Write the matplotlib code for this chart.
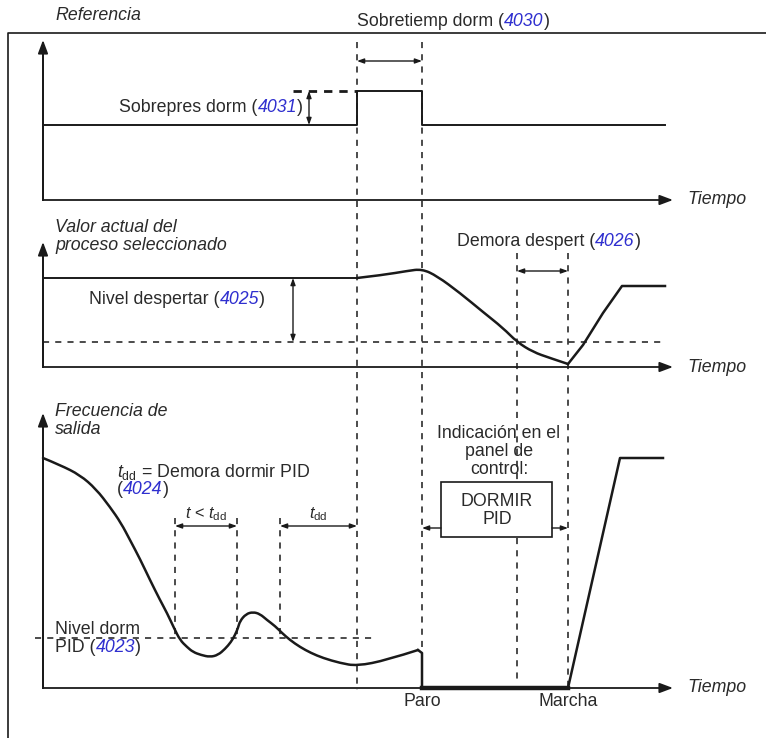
import numpy as np
import matplotlib.pyplot as plt
from matplotlib.path import Path
from matplotlib.patches import PathPatch

plt.rcParams['font.family'] = ['Liberation Sans', 'DejaVu Sans']
plt.rcParams['mathtext.fontset'] = 'custom'
plt.rcParams['mathtext.rm'] = 'Liberation Sans'
plt.rcParams['mathtext.it'] = 'Liberation Sans:italic'

# Diagram values (x = time, y = screen row, pixels)
# Reference signal
ref_x = [43, 357, 357, 422, 422, 665]
ref_y = [125, 125, 91, 91, 125, 125]

# Actual process value (smooth part, then the recovery ramp)
proc_x = [357, 383, 407, 422, 437, 460, 483, 503, 517, 533, 550, 568]
proc_y = [278, 275, 271, 269, 276, 293, 312, 328, 342, 352, 358, 364]
proc_ramp_x = [568, 583, 603, 622, 665]
proc_ramp_y = [364, 345, 313, 286, 286]
proc_flat_y = 278

# Output frequency (smooth part, then stop / restart)
freq_x = [43, 60, 80, 96, 110, 121, 130, 140, 150, 160, 167, 174, 180, 187, 193, 201, 210,
          218, 225, 231, 235, 238, 240, 246, 253, 260, 267, 275, 282, 290, 300, 311, 323,
          340, 357, 387, 418]
freq_y = [458, 465, 475, 489, 507, 523, 540, 559, 580, 600, 613, 628, 640, 647, 652, 655, 657,
          655, 649, 642, 635, 628, 621, 614, 612, 614, 620, 626, 633, 640, 647, 653, 658,
          663, 666, 660, 650]
stop_x = [418, 422, 422, 568]
stop_y = [650, 653, 688, 688]
restart_x = [568, 620, 663]
restart_y = [688, 458, 458]

# Levels
overpressure_y = 91
wake_level_y = 342
sleep_level_y = 638

INK = '#1a1a1a'
TXT = '#2a2a2a'
BLUE = '#2f2fcf'
FS = 12.8


def rich(ax, x, y, parts, ha='left'):
    """Draw text pieces side by side: parts = [(text, color, style)]."""
    r = ax.figure.canvas.get_renderer()
    arts = []
    for s, c, st in parts:
        t = ax.text(0, y, s, color=c, style=st, fontsize=FS, va='center', ha='left')
        arts.append(t)
    widths = [a.get_window_extent(r).width for a in arts]
    total = sum(widths)
    if ha == 'center':
        x = x - total / 2
    elif ha == 'right':
        x = x - total
    for a, w in zip(arts, widths):
        a.set_x(x)
        x += w


def smooth(ax, xs, ys, lw=1.8):
    # quadratic B-spline through the read points, drawn as a matplotlib path
    pts = list(zip(xs, ys))
    verts = [pts[0]]
    codes = [Path.MOVETO]
    for i in range(1, len(pts) - 2):
        mid = ((pts[i][0] + pts[i + 1][0]) / 2, (pts[i][1] + pts[i + 1][1]) / 2)
        verts += [pts[i], mid]
        codes += [Path.CURVE3, Path.CURVE3]
    verts += [pts[-2], pts[-1]]
    codes += [Path.CURVE3, Path.CURVE3]
    ax.add_patch(PathPatch(Path(verts, codes), fill=False, ec=INK, lw=lw,
                           capstyle='round', joinstyle='round'))


def arrow(ax, x0, y0, x1, y1, lw=1.3, scale=20, hl=0.4, hw=0.15):
    ax.annotate('', xy=(x1, y1), xytext=(x0, y0),
                arrowprops=dict(arrowstyle=f'-|>,head_length={hl},head_width={hw}',
                                lw=lw, color=INK, shrinkA=0, shrinkB=0,
                                mutation_scale=scale))


def darrow(ax, x0, y0, x1, y1):
    ax.annotate('', xy=(x1, y1), xytext=(x0, y0),
                arrowprops=dict(arrowstyle='<|-|>,head_length=0.5,head_width=0.18',
                                lw=1.0, color=INK, shrinkA=0, shrinkB=0,
                                mutation_scale=8))


def vdash(ax, x, y0, y1):
    ax.plot([x, x], [y0, y1], color=INK, lw=1.1, ls=(0, (4, 4)))


def hdash(ax, x0, x1, y):
    ax.plot([x0, x1], [y, y], color=INK, lw=1.1, ls=(0, (4, 4)))


fig = plt.figure(figsize=(7.66, 7.38), dpi=100)
ax = fig.add_axes([0, 0, 1, 1])
ax.set_xlim(0, 766)
ax.set_ylim(738, 0)
ax.axis('off')
fig.canvas.draw()

# outer frame
ax.plot([8, 8, 766], [738, 33, 33], color=INK, lw=1.2)

# axes of the three panels
for top, base in [(40, 200), (242, 367), (413, 688)]:
    ax.plot([43, 43], [base, top + 8], color=INK, lw=1.4)
    arrow(ax, 43, base, 43, top)
    arrow(ax, 43, base, 673, base)
    ax.text(687, base, 'Tiempo', style='italic', fontsize=FS, color=TXT, va='center')

# vertical time markers
vdash(ax, 357, 42, 690)
vdash(ax, 422, 42, 653)
vdash(ax, 517, 253, 482)
vdash(ax, 517, 538, 680)
vdash(ax, 568, 253, 688)
vdash(ax, 175, 518, 638)
vdash(ax, 237, 518, 636)
vdash(ax, 280, 518, 640)

# panel 1: reference
ax.plot(ref_x, ref_y, color=INK, lw=1.4)
ax.plot([293, 357], [overpressure_y, overpressure_y], color=INK, lw=2.0, ls=(0, (3, 2.5)))
darrow(ax, 309, overpressure_y, 309, ref_y[0])
darrow(ax, 357, 61, 422, 61)
ax.text(55, 16, 'Referencia', style='italic', fontsize=FS, color=TXT, va='center')
rich(ax, 357, 21, [('Sobretiemp dorm (', TXT, 'normal'), ('4030', BLUE, 'italic'), (')', TXT, 'normal')])
rich(ax, 303, 107, [('Sobrepres dorm (', TXT, 'normal'), ('4031', BLUE, 'italic'), (')', TXT, 'normal')], ha='right')

# panel 2: process value
ax.plot([43, 357], [proc_flat_y, proc_flat_y], color=INK, lw=1.4)
smooth(ax, proc_x, proc_y)
ax.plot(proc_ramp_x, proc_ramp_y, color=INK, lw=1.8, solid_joinstyle='round')
hdash(ax, 43, 665, wake_level_y)
darrow(ax, 293, proc_flat_y, 293, wake_level_y)
darrow(ax, 517, 271, 568, 271)
ax.text(55, 228, 'Valor actual del', style='italic', fontsize=FS, color=TXT, va='center')
ax.text(55, 245, 'proceso seleccionado', style='italic', fontsize=FS, color=TXT, va='center')
rich(ax, 89, 300, [('Nivel despertar (', TXT, 'normal'), ('4025', BLUE, 'italic'), (')', TXT, 'normal')])
rich(ax, 457, 242, [('Demora despert (', TXT, 'normal'), ('4026', BLUE, 'italic'), (')', TXT, 'normal')])

# panel 3: output frequency
smooth(ax, freq_x, freq_y)
ax.plot(stop_x[:3], stop_y[:3], color=INK, lw=1.8)
ax.plot(stop_x[2:], stop_y[2:], color=INK, lw=3.2)
ax.plot(restart_x, restart_y, color=INK, lw=1.8)
hdash(ax, 35, 376, sleep_level_y)
darrow(ax, 175, 526, 237, 526)
darrow(ax, 280, 526, 357, 526)
ax.text(55, 412, 'Frecuencia de', style='italic', fontsize=FS, color=TXT, va='center')
ax.text(55, 430, 'salida', style='italic', fontsize=FS, color=TXT, va='center')
ax.text(117, 472, r'$t_{\mathrm{dd}}$ = Demora dormir PID', fontsize=FS, color=TXT, va='center')
rich(ax, 117, 490, [('(', TXT, 'normal'), ('4024', BLUE, 'italic'), (')', TXT, 'normal')])
ax.text(206, 514, r'$t$ < $t_{\mathrm{dd}}$', fontsize=FS - 1, color=TXT, va='center', ha='center')
ax.text(318, 514, r'$t_{\mathrm{dd}}$', fontsize=FS - 1, color=TXT, va='center', ha='center')
ax.text(55, 629, 'Nivel dorm', fontsize=FS, color=TXT, va='center')
rich(ax, 55, 647, [('PID (', TXT, 'normal'), ('4023', BLUE, 'italic'), (')', TXT, 'normal')])

# control panel indication
for txt, yy in [('Indicación en el', 433), ('panel de', 452), ('control:', 470)]:
    ax.text(499, yy, txt, fontsize=FS, color=TXT, ha='center', va='center')
ax.add_patch(plt.Rectangle((441, 482), 111, 55, fill=False, ec=INK, lw=1.2))
ax.text(497, 502, 'DORMIR', fontsize=FS, color=TXT, ha='center', va='center')
ax.text(497, 519, 'PID', fontsize=FS, color=TXT, ha='center', va='center')
arrow(ax, 441, 528, 422, 528, lw=1.0, scale=8, hl=0.5, hw=0.18)
arrow(ax, 552, 528, 568, 528, lw=1.0, scale=8, hl=0.5, hw=0.18)
ax.text(422, 702, 'Paro', fontsize=FS, color=TXT, ha='center', va='center')
ax.text(568, 702, 'Marcha', fontsize=FS, color=TXT, ha='center', va='center')

fig.savefig('out.png', dpi=100)
